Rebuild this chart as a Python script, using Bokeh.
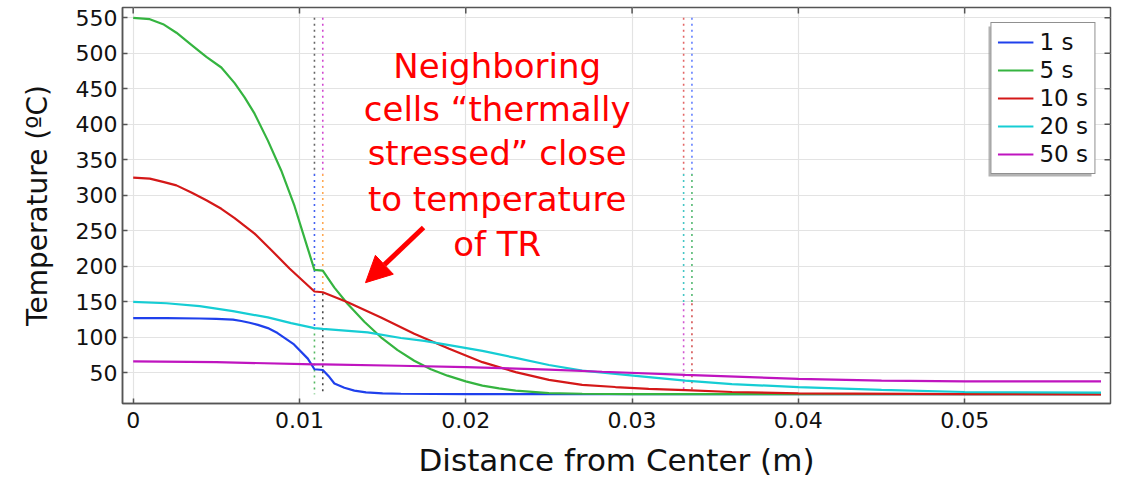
from bokeh.plotting import figure
from bokeh.models import (Range1d, FixedTicker, Legend, LegendItem,
                          Arrow, NormalHead, BoxAnnotation, ColumnDataSource)
from bokeh.core.properties import value
from bokeh.embed import file_html
from bokeh.resources import INLINE

FONT = "DejaVu Sans"

# ---------------- data ----------------
x_1s = [0, 0.002, 0.004, 0.005, 0.006, 0.0065, 0.007, 0.0075, 0.0081, 0.00868, 0.00967, 0.0105,
        0.0109, 0.0114, 0.0118, 0.0121, 0.0127, 0.0133, 0.014, 0.015, 0.0161, 0.02, 0.03, 0.04,
        0.05, 0.0582]
t_1s = [127, 127, 126.5, 126, 125, 123, 120.5, 117.5, 113, 106, 90, 70,
        55, 54, 44, 35, 29, 25, 22.5, 21, 20.5, 20, 20, 20,
        20, 20]

x_5s = [0, 0.001, 0.0018, 0.0026, 0.0035, 0.0044, 0.0053, 0.0061, 0.0067, 0.0073, 0.0081, 0.0089,
        0.0097, 0.0105, 0.0109, 0.0114, 0.0121, 0.0129, 0.0139, 0.0149, 0.0159, 0.0169,
        0.0179, 0.0189, 0.02, 0.021, 0.022, 0.023, 0.025, 0.027, 0.03, 0.04, 0.05, 0.0582]
t_5s = [550, 548, 541, 529, 512, 495, 480, 458, 438, 415, 377, 335,
        285, 225, 195, 194, 170, 147, 122, 100, 82, 67,
        55, 46, 38, 32, 28, 25, 21.5, 20.5, 20, 20, 20, 20]

x_10s = [0, 0.001, 0.0018, 0.0026, 0.0035, 0.0044, 0.0053, 0.0061, 0.0073, 0.0083, 0.0094,
         0.0109, 0.0114, 0.0129, 0.0149, 0.0169, 0.019, 0.021, 0.023, 0.025, 0.027, 0.029,
         0.031, 0.0332, 0.036, 0.04, 0.05, 0.0582]
t_10s = [325, 323.5, 319, 314, 304, 293, 281, 268, 246, 223, 197,
         164.5, 163.5, 149.5, 128, 105, 84, 65, 51, 40, 33, 30,
         27.5, 25.5, 23, 21, 20, 19.5]

x_20s = [0, 0.002, 0.004, 0.006, 0.0081, 0.0095, 0.0109, 0.0114, 0.0141, 0.0161, 0.0175,
         0.019, 0.021, 0.023, 0.025, 0.027, 0.029, 0.031, 0.0332, 0.036, 0.04, 0.045, 0.05, 0.0582]
t_20s = [150, 148, 144, 137, 128, 120, 113, 112, 107, 99, 95,
         89, 81, 71, 61, 53, 48.5, 44, 39, 34, 30, 26, 23, 22]

x_50s = [0, 0.005, 0.0109, 0.0114, 0.016, 0.02, 0.025, 0.0282, 0.0332, 0.04, 0.045, 0.05, 0.0582]
t_50s = [66, 65, 62, 61.8, 60, 58, 54.5, 51.5, 47, 41.5, 39, 38, 38]

series_names = ["1 s", "5 s", "10 s", "20 s", "50 s"]
series_x = [x_1s, x_5s, x_10s, x_20s, x_50s]
series_t = [t_1s, t_5s, t_10s, t_20s, t_50s]
series_colors = ["#1f40ec", "#35b440", "#d41818", "#16cdd4", "#bf14bf"]

# vertical dotted marker lines (cell boundaries), segment by segment
vline_x = [0.0109, 0.0109, 0.0109, 0.0114, 0.0114, 0.0114,
           0.0331, 0.0331, 0.0331, 0.0336, 0.0336, 0.0336]
vline_top = [550, 330, 114, 550, 330, 162, 550, 330, 148, 550, 330, 148]
vline_bot = [330, 114, 20, 330, 162, 20, 330, 148, 20, 330, 148, 20]
vline_color = ["#555555", "#3050f0", "#40b050", "#cc33cc", "#ffa040", "#333333",
               "#e05555", "#30c0c0", "#cc44cc", "#5070ff", "#40b060", "#d04040"]

x_ticks = [0, 0.01, 0.02, 0.03, 0.04, 0.05]
x_tick_labels = ["0", "0.01", "0.02", "0.03", "0.04", "0.05"]
y_ticks = [50, 100, 150, 200, 250, 300, 350, 400, 450, 500, 550]

note_lines = ["Neighboring", "cells \u201cthermally", "stressed\u201d close",
              "to temperature", "of TR"]

# ---------------- figure ----------------
X0, X1 = -0.000643, 0.05877
Y0, Y1 = 6.8, 564.5
W, H = 1129, 485
ML, MR, MT, MB = 122, 19, 7, 82
px_x = (X1 - X0) / (W - ML - MR)   # data units per pixel
px_y = (Y1 - Y0) / (H - MT - MB)

p = figure(width=W, height=H, output_backend="svg", toolbar_location=None,
           x_range=Range1d(X0, X1), y_range=Range1d(Y0, Y1),
           min_border_left=ML, min_border_right=MR, min_border_top=MT, min_border_bottom=MB)
p.background_fill_color = "white"
p.border_fill_color = "white"
p.outline_line_color = "#555555"
p.outline_line_width = 1.5

AX_COL = "#555555"
xt = FixedTicker(ticks=x_ticks)
yt = FixedTicker(ticks=y_ticks)

xa = p.xaxis[0]
xa.ticker = xt
xa.major_label_overrides = {t: l for t, l in zip(x_ticks, x_tick_labels)}
xa.axis_label = "Distance from Center (m)"
ya = p.yaxis[0]
ya.ticker = yt
ya.axis_label = "Temperature (\u00baC)"

for ax in (xa, ya):
    ax.axis_line_color = AX_COL
    ax.axis_line_width = 1.5
    ax.major_tick_line_color = AX_COL
    ax.major_tick_line_width = 1.5
    ax.major_tick_in = 5
    ax.major_tick_out = 0
    ax.minor_tick_line_color = None
    ax.major_label_text_font = FONT
    ax.major_label_text_font_size = "22px"
    ax.major_label_text_color = "#111111"
    ax.axis_label_text_font = FONT
    ax.axis_label_text_font_style = "normal"
    ax.axis_label_text_color = "#111111"
xa.axis_label_text_font_size = "31px"
ya.axis_label_text_font_size = "28px"
xa.major_label_standoff = 8
xa.axis_label_standoff = 11
ya.major_label_standoff = 5
ya.axis_label_standoff = 19

p.xgrid.ticker = xt
p.ygrid.ticker = yt
p.xgrid.grid_line_color = "#e3e3e3"
p.ygrid.grid_line_color = "#e3e3e3"
p.xgrid.grid_line_width = 1.2
p.ygrid.grid_line_width = 1.2

# inner tick marks on the top and right edges of the frame
p.segment(x0=x_ticks, y0=[Y1] * len(x_ticks), x1=x_ticks, y1=[Y1 - 6 * px_y] * len(x_ticks),
          line_color=AX_COL, line_width=1.5)
p.segment(x0=[X1] * len(y_ticks), y0=y_ticks, x1=[X1 - 6 * px_x] * len(y_ticks), y1=y_ticks,
          line_color=AX_COL, line_width=1.5)

# dotted vertical lines
vsrc = ColumnDataSource(dict(x=vline_x, top=vline_top, bot=vline_bot, c=vline_color))
p.segment(x0="x", y0="top", x1="x", y1="bot", source=vsrc, line_color="c",
          line_width=1.6, line_dash="2 4", line_alpha=0.9)

# series
renderers = []
for name, xs, ts, col in zip(series_names, series_x, series_t, series_colors):
    r = p.line(xs, ts, line_color=col, line_width=2.2)
    renderers.append(r)

# annotation text
note_x = 0.02189
note_baselines = [482.8, 422.0, 358.9, 295.5, 232.0]
p.text(x=[note_x] * len(note_lines), y=note_baselines, text=note_lines,
       text_font=value(FONT), text_font_size="34px", text_color="#ff0000",
       text_align="center", text_baseline="alphabetic")

p.add_layout(Arrow(end=NormalHead(size=26, fill_color="#ff0000", line_color="#ff0000"),
                   x_start=0.01746, y_start=254.6, x_end=0.01397, y_end=177,
                   line_color="#ff0000", line_width=5))

# legend shadow
p.add_layout(BoxAnnotation(left=988, right=1091, top=26, bottom=176,
                           left_units="canvas", right_units="canvas",
                           top_units="canvas", bottom_units="canvas",
                           fill_color="#9a9a9a", fill_alpha=0.75, line_color=None))

legend = Legend(items=[LegendItem(label=n, renderers=[r]) for n, r in zip(series_names, renderers)],
                location="top_right", margin=15, padding=6, spacing=2,
                glyph_width=36, glyph_height=20, label_height=26, label_standoff=6,
                label_text_font=FONT, label_text_font_size="23px", label_text_color="#111111",
                label_text_baseline="middle",
                border_line_color="#222222", border_line_width=1.2,
                background_fill_color="white", background_fill_alpha=1.0)
p.add_layout(legend)

open("out.html", "w").write(file_html(p, INLINE))
